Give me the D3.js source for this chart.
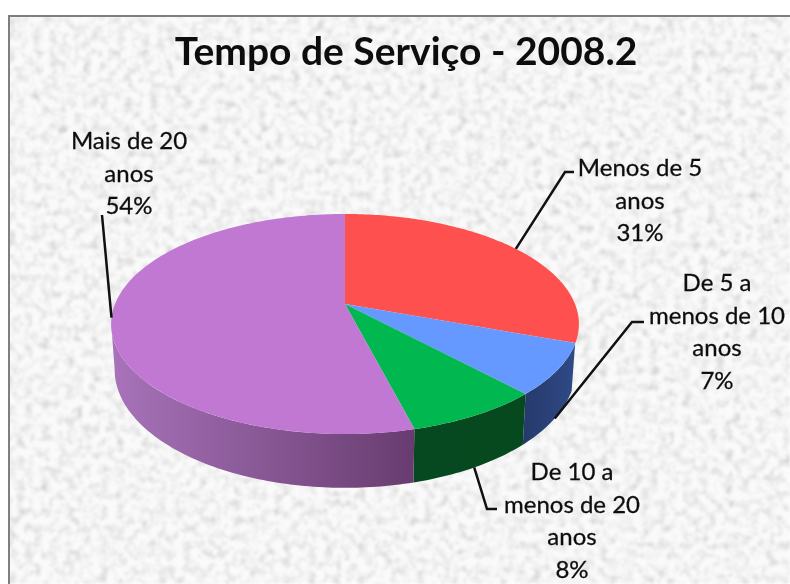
<!DOCTYPE html>
<html>
<head>
<meta charset="utf-8">
<script src="https://cdn.jsdelivr.net/npm/d3@7"></script>
<style>
  html, body { margin: 0; padding: 0; background: #fff; }
  svg { display: block; }
  text { font-family: Lato, "Open Sans", sans-serif; fill: #111; }
  .title { font-size: 39px; font-weight: 700; text-anchor: middle; }
  .label { font-size: 24px; text-anchor: middle; stroke: #111; stroke-width: 0.3; }
  .leader { fill: none; stroke: #111; stroke-width: 2.5; }
</style>
</head>
<body>
<svg id="chart" width="790" height="584"></svg>
<script>
var titleText = "Tempo de Serviço - 2008.2";
var categories = ["Menos de 5 anos", "De 5 a menos de 10 anos", "De 10 a menos de 20 anos", "Mais de 20 anos"];
var values = [30.6, 7.49, 7.91, 54];
var labelLines = [
  ["Menos de 5", "anos", "31%"],
  ["De 5 a", "menos de 10", "anos", "7%"],
  ["De 10 a", "menos de 20", "anos", "8%"],
  ["Mais de 20", "anos", "54%"]
];
var topColors = ["#ff5050", "#6699ff", "#00b750", "#c078d2"];
var wallLeft = ["#b83a3a", "#263a6c", "#06481f", "#a873ba"];
var wallRight = ["#b83a3a", "#2f4a86", "#06491f", "#683c70"];

// where the label blocks and the leader elbows sit on the page
var labelPos = [[640, 176], [717, 291], [572, 480], [129, 149]];
var lineStep = 32.7;
var elbows = [
  [[565, 172], [574, 172]],
  [[632, 322], [644, 322]],
  [[487, 509], [497, 509]],
  [[102, 215]]
];
var leaderOnBase = [false, true, true, false];

var width = 790, height = 584;
var svg = d3.select("#chart");
var defs = svg.append("defs");

// grainy paper background
var paper = defs.append("filter").attr("id", "paper")
    .attr("x", 0).attr("y", 0).attr("width", "100%").attr("height", "100%");
paper.append("feTurbulence")
    .attr("type", "fractalNoise")
    .attr("baseFrequency", 0.12)
    .attr("numOctaves", 3)
    .attr("seed", 7);
paper.append("feColorMatrix")
    .attr("type", "matrix")
    .attr("values", "0.9 0.9 0 0 -0.02  0.9 0.9 0 0 -0.02  0.9 0.9 0 0 -0.02  0 0 0 0 1");
paper.append("feGaussianBlur").attr("stdDeviation", 0.8);
var ct = paper.append("feComponentTransfer");
["feFuncR", "feFuncG", "feFuncB"].forEach(function(f) {
  ct.append(f).attr("type", "linear").attr("slope", 0.46).attr("intercept", 0.5);
});

defs.append("filter").attr("id", "soft")
  .append("feGaussianBlur").attr("stdDeviation", 0.45);

svg.append("rect")
    .attr("x", 8).attr("y", 15)
    .attr("width", width - 8).attr("height", height - 15)
    .attr("filter", "url(#paper)");
svg.append("path")
    .attr("d", "M9," + height + "V16H" + width)
    .attr("fill", "none").attr("stroke", "#7f7f7f").attr("stroke-width", 2);

svg.append("text")
    .attr("class", "title")
    .attr("x", 406).attr("y", 65)
    .attr("filter", "url(#soft)")
    .text(titleText);

// the 3D look: a perspective view of a tilted disc
var cx = 345, cy = 304, ax = 230, by = 106.4, k = 0.1818, depth = 44, baseShrink = 0.985;

function project(angle, onBase) {
  var u = Math.sin(angle), v = -Math.cos(angle), w = 1 / (1 - k * v);
  var s = onBase ? baseShrink : 1;
  return [cx + ax * u * w * s, cy + by * v * w + (onBase ? depth * w : 0)];
}

var pie = d3.pie().sort(null).value(function(d) { return d; });
var arcs = pie(values);
var line = d3.line();
var rad = Math.PI / 180;
var wallMin = 110.5 * rad, wallMax = 260 * rad;

function rim(a0, a1, onBase) {
  var n = Math.max(2, Math.ceil((a1 - a0) / rad));
  return d3.range(n + 1).map(function(i) {
    return project(a0 + (a1 - a0) * i / n, onBase);
  });
}

var pie3d = svg.append("g");

// side walls, only the part turned toward the viewer
arcs.forEach(function(d, i) {
  var a0 = Math.max(d.startAngle, wallMin), a1 = Math.min(d.endAngle, wallMax);
  if (a1 <= a0) return;
  var top = rim(a0, a1, false), base = rim(a0, a1, true).reverse();
  var grad = defs.append("linearGradient")
      .attr("id", "wall" + i)
      .attr("gradientUnits", "userSpaceOnUse")
      .attr("x1", d3.min(top, function(p) { return p[0]; })).attr("y1", 0)
      .attr("x2", d3.max(top, function(p) { return p[0]; })).attr("y2", 0);
  grad.append("stop").attr("offset", 0).attr("stop-color", wallLeft[i]);
  grad.append("stop").attr("offset", 1).attr("stop-color", wallRight[i]);
  pie3d.append("path")
      .attr("d", line(top.concat(base)) + "Z")
      .attr("fill", "url(#wall" + i + ")");
});

// top faces
arcs.forEach(function(d, i) {
  pie3d.append("path")
      .datum(d)
      .attr("class", "slice")
      .attr("d", line([[cx, cy]].concat(rim(d.startAngle, d.endAngle, false))) + "Z")
      .attr("fill", topColors[i])
      .append("title").text(categories[i]);
});

// leader lines
arcs.forEach(function(d, i) {
  var start = project((d.startAngle + d.endAngle) / 2, leaderOnBase[i]);
  svg.append("path")
      .attr("class", "leader")
      .attr("d", line([start].concat(elbows[i])));
});

// labels
labelLines.forEach(function(lines, i) {
  var g = svg.append("text").attr("class", "label").attr("filter", "url(#soft)");
  lines.forEach(function(t, j) {
    g.append("tspan")
        .attr("x", labelPos[i][0])
        .attr("y", labelPos[i][1] + j * lineStep)
        .text(t);
  });
});
</script>
</body>
</html>
